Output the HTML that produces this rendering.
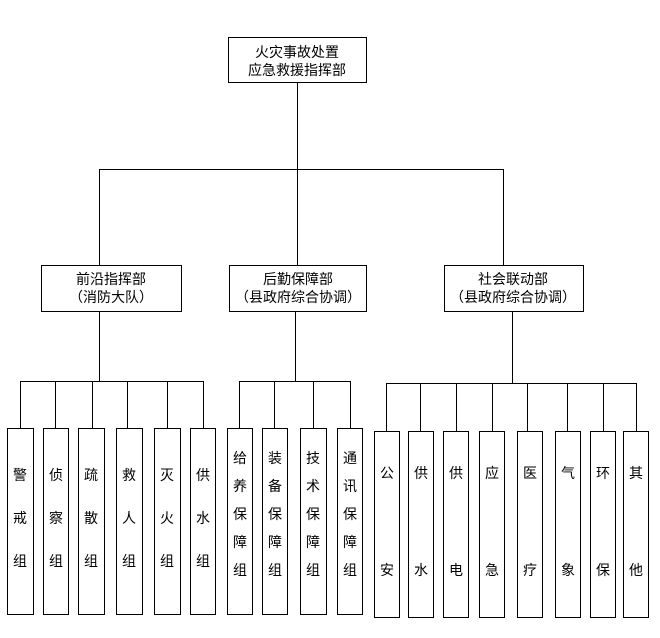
<!DOCTYPE html>
<html><head><meta charset="utf-8"><style>
html,body{margin:0;padding:0;background:#fff;}
svg text{font-family:"Liberation Sans","Noto Sans CJK SC","WenQuanYi Zen Hei",sans-serif;font-size:14px;fill:#000;}
</style></head><body>
<svg width="660" height="633" viewBox="0 0 660 633" xmlns="http://www.w3.org/2000/svg">
<g fill="none" stroke="#000" stroke-width="1" shape-rendering="crispEdges">
<rect x="228.5" y="37.5" width="138" height="45"/>
<line x1="297.5" y1="82" x2="297.5" y2="265"/>
<line x1="99.5" y1="169.5" x2="503.5" y2="169.5"/>
<line x1="99.5" y1="169" x2="99.5" y2="265"/>
<line x1="503.5" y1="169" x2="503.5" y2="265"/>
<rect x="41.5" y="265.5" width="140" height="46"/>
<rect x="229.5" y="265.5" width="137" height="46"/>
<rect x="444.5" y="265.5" width="139" height="46"/>
<line x1="99.5" y1="311" x2="99.5" y2="381"/>
<line x1="295.5" y1="311" x2="295.5" y2="381"/>
<line x1="512.5" y1="311" x2="512.5" y2="383"/>
<line x1="20.5" y1="381.5" x2="203.5" y2="381.5"/>
<line x1="239.5" y1="381.5" x2="350.5" y2="381.5"/>
<line x1="386.5" y1="383.5" x2="636.5" y2="383.5"/>
<line x1="20.5" y1="381" x2="20.5" y2="428"/>
<line x1="55.5" y1="381" x2="55.5" y2="428"/>
<line x1="92.5" y1="381" x2="92.5" y2="428"/>
<line x1="127.5" y1="381" x2="127.5" y2="428"/>
<line x1="167.5" y1="381" x2="167.5" y2="428"/>
<line x1="203.5" y1="381" x2="203.5" y2="428"/>
<line x1="239.5" y1="381" x2="239.5" y2="428"/>
<line x1="274.5" y1="381" x2="274.5" y2="428"/>
<line x1="313.5" y1="381" x2="313.5" y2="428"/>
<line x1="350.5" y1="381" x2="350.5" y2="428"/>
<line x1="386.5" y1="383" x2="386.5" y2="431"/>
<line x1="420.5" y1="383" x2="420.5" y2="431"/>
<line x1="456.5" y1="383" x2="456.5" y2="431"/>
<line x1="492.5" y1="383" x2="492.5" y2="431"/>
<line x1="527.5" y1="383" x2="527.5" y2="431"/>
<line x1="567.5" y1="383" x2="567.5" y2="431"/>
<line x1="603.5" y1="383" x2="603.5" y2="431"/>
<line x1="636.5" y1="383" x2="636.5" y2="431"/>
<rect x="7.5" y="428.5" width="26" height="186"/>
<rect x="43.5" y="428.5" width="25" height="186"/>
<rect x="78.5" y="428.5" width="26" height="186"/>
<rect x="116.5" y="428.5" width="26" height="186"/>
<rect x="154.5" y="428.5" width="26" height="186"/>
<rect x="190.5" y="428.5" width="25" height="186"/>
<rect x="227.5" y="428.5" width="25" height="186"/>
<rect x="262.5" y="428.5" width="25" height="186"/>
<rect x="300.5" y="428.5" width="26" height="186"/>
<rect x="337.5" y="428.5" width="25" height="186"/>
<rect x="374.5" y="431.5" width="25" height="186"/>
<rect x="408.5" y="431.5" width="25" height="186"/>
<rect x="443.5" y="431.5" width="25" height="186"/>
<rect x="479.5" y="431.5" width="25" height="186"/>
<rect x="517.5" y="431.5" width="25" height="186"/>
<rect x="555.5" y="431.5" width="25" height="186"/>
<rect x="590.5" y="431.5" width="25" height="186"/>
<rect x="623.5" y="431.5" width="25" height="186"/>
</g>
<g text-anchor="middle" dominant-baseline="central">
<text x="297" y="52">火灾事故处置</text>
<text x="297" y="70">应急救援指挥部</text>
<text x="111" y="279">前沿指挥部</text>
<text x="111" y="297">（消防大队）</text>
<text x="298" y="279">后勤保障部</text>
<text x="298" y="297">（县政府综合协调）</text>
<text x="513" y="279">社会联动部</text>
<text x="513" y="297">（县政府综合协调）</text>
<text x="20" y="475">警</text><text x="20" y="518">戒</text><text x="20" y="561">组</text>
<text x="56" y="475">侦</text><text x="56" y="518">察</text><text x="56" y="561">组</text>
<text x="91" y="475">疏</text><text x="91" y="518">散</text><text x="91" y="561">组</text>
<text x="129" y="475">救</text><text x="129" y="518">人</text><text x="129" y="561">组</text>
<text x="167" y="475">灭</text><text x="167" y="518">火</text><text x="167" y="561">组</text>
<text x="203" y="475">供</text><text x="203" y="518">水</text><text x="203" y="561">组</text>
<text x="240" y="458">给</text><text x="240" y="486">养</text><text x="240" y="514">保</text><text x="240" y="542">障</text><text x="240" y="570">组</text>
<text x="275" y="458">装</text><text x="275" y="486">备</text><text x="275" y="514">保</text><text x="275" y="542">障</text><text x="275" y="570">组</text>
<text x="313" y="458">技</text><text x="313" y="486">术</text><text x="313" y="514">保</text><text x="313" y="542">障</text><text x="313" y="570">组</text>
<text x="350" y="458">通</text><text x="350" y="486">讯</text><text x="350" y="514">保</text><text x="350" y="542">障</text><text x="350" y="570">组</text>
<text x="387" y="473">公</text><text x="387" y="570">安</text>
<text x="421" y="473">供</text><text x="421" y="570">水</text>
<text x="456" y="473">供</text><text x="456" y="570">电</text>
<text x="492" y="473">应</text><text x="492" y="570">急</text>
<text x="530" y="473">医</text><text x="530" y="570">疗</text>
<text x="568" y="473">气</text><text x="568" y="570">象</text>
<text x="603" y="473">环</text><text x="603" y="570">保</text>
<text x="636" y="473">其</text><text x="636" y="570">他</text>
</g>
</svg>
</body></html>
